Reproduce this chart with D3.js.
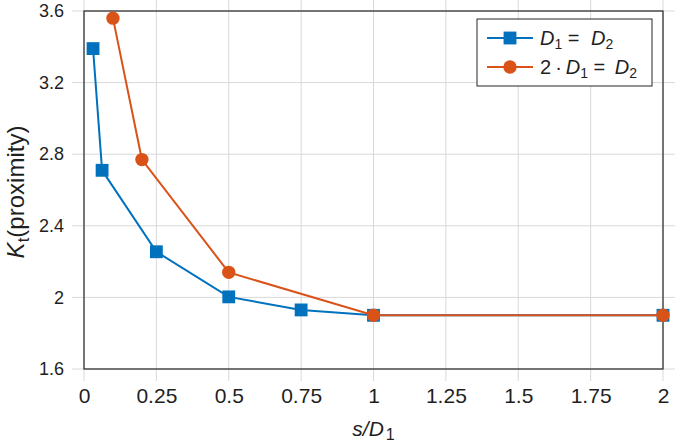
<!DOCTYPE html>
<html>
<head>
  <meta charset="utf-8">
  <script src="https://d3js.org/d3.v7.min.js"></script>
  <style>
    body { margin: 0; background: #fff; }
    svg { font-family: "Liberation Sans", Arial, sans-serif; }
    .grid line { stroke: #d9d9d9; stroke-width: 1; }
    .axis path, .axis line { display: none; }
    .axis text { fill: #1f1f1f; }
  </style>
</head>
<body>
<svg width="675" height="443"></svg>
<script>
// data
var xTicks = [0, 0.25, 0.5, 0.75, 1, 1.25, 1.5, 1.75, 2];
var xTickLabels = ["0", "0.25", "0.5", "0.75", "1", "1.25", "1.5", "1.75", "2"];
var yTicks = [1.6, 2, 2.4, 2.8, 3.2, 3.6];
var yTickLabels = ["1.6", "2", "2.4", "2.8", "3.2", "3.6"];

var sameX = [0.03125, 0.0625, 0.25, 0.5, 0.75, 1, 2];
var sameY = [3.39, 2.71, 2.255, 2.003, 1.93, 1.90, 1.90];
var doubleX = [0.1, 0.2, 0.5, 1, 2];
var doubleY = [3.56, 2.77, 2.14, 1.90, 1.90];

var blue = "#0072bd", orange = "#d95319";

var margin = {top: 11, right: 12, bottom: 74, left: 84},
    width = 675 - margin.left - margin.right,
    height = 443 - margin.top - margin.bottom;

var svg = d3.select("svg");
var g = svg.append("g")
    .attr("transform", "translate(" + margin.left + "," + margin.top + ")");

var x = d3.scaleLinear().domain([0, 2]).range([0, width]);
var y = d3.scaleLinear().domain([1.6, 3.6]).range([height, 0]);

// grid lines, running a little past the box like the original
var ext = 12;
g.append("g").attr("class", "grid")
  .selectAll("line").data(xTicks).enter().append("line")
    .attr("x1", function(d) { return x(d); })
    .attr("x2", function(d) { return x(d); })
    .attr("y1", -margin.top)
    .attr("y2", height + ext);
g.append("g").attr("class", "grid")
  .selectAll("line").data(yTicks).enter().append("line")
    .attr("x1", -ext)
    .attr("x2", width + ext)
    .attr("y1", function(d) { return y(d); })
    .attr("y2", function(d) { return y(d); });

// box
g.append("rect")
    .attr("width", width).attr("height", height)
    .attr("fill", "none").attr("stroke", "#262626").attr("stroke-width", 1.2);

// axes
g.append("g").attr("class", "axis")
    .attr("transform", "translate(0," + height + ")")
    .call(d3.axisBottom(x).tickValues(xTicks).tickSize(0).tickPadding(34)
      .tickFormat(function(d, i) { return xTickLabels[i]; }))
    .call(function(a) { a.selectAll("text").attr("font-size", 21).attr("dy", 0); });

g.append("g").attr("class", "axis")
    .call(d3.axisLeft(y).tickValues(yTicks).tickSize(0).tickPadding(20)
      .tickFormat(function(d, i) { return yTickLabels[i]; }))
    .call(function(a) { a.selectAll("text").attr("font-size", 18); });
g.selectAll(".axis .domain").remove();

// series
function drawSeries(xs, ys, color, marker) {
  var pts = xs.map(function(v, i) { return [v, ys[i]]; });
  var line = d3.line().x(function(d) { return x(d[0]); }).y(function(d) { return y(d[1]); });
  g.append("path").datum(pts)
      .attr("d", line).attr("fill", "none")
      .attr("stroke", color).attr("stroke-width", 2);
  var sym = d3.symbol().type(marker === "square" ? d3.symbolSquare : d3.symbolCircle)
      .size(marker === "square" ? 165 : 140);
  g.append("g").selectAll("path").data(pts).enter().append("path")
      .attr("d", sym)
      .attr("transform", function(d) { return "translate(" + x(d[0]) + "," + y(d[1]) + ")"; })
      .attr("fill", color);
}
drawSeries(sameX, sameY, blue, "square");
drawSeries(doubleX, doubleY, orange, "circle");

// axis titles
var xt = g.append("text")
    .attr("x", width / 2).attr("y", height + 67)
    .attr("text-anchor", "middle").attr("font-size", 21).attr("fill", "#1f1f1f");
xt.append("tspan").attr("font-style", "italic").text("s/D");
xt.append("tspan").attr("font-size", 16).attr("dy", 4).attr("dx", 2).text("1");

var yt = g.append("text")
    .attr("transform", "translate(" + (-60) + "," + (height / 2 + 2) + ") rotate(-90)")
    .attr("text-anchor", "middle").attr("font-size", 24).attr("fill", "#1f1f1f");
yt.append("tspan").attr("font-style", "italic").text("K");
yt.append("tspan").attr("font-size", 17).attr("dy", 5).text("t");
yt.append("tspan").attr("dy", -5).text("(proximity)");

// legend
var lg = g.append("g").attr("transform", "translate(" + (477 - margin.left) + "," + (19 - margin.top) + ")");
lg.append("rect").attr("width", 175).attr("height", 67)
    .attr("fill", "#fff").attr("stroke", "#262626").attr("stroke-width", 1);
var entries = [
  {color: blue, marker: "square", parts: [["i", "D"], ["sub", "1"], ["n", " = "], ["i", "D", 6], ["sub", "2"]]},
  {color: orange, marker: "circle", parts: [["n", "2\u2009\u00b7\u2009"], ["i", "D"], ["sub", "1"], ["n", " = "], ["i", "D", 4], ["sub", "2"]]}
];
entries.forEach(function(e, i) {
  var cy = 19 + i * 29;
  lg.append("line").attr("x1", 10).attr("x2", 56).attr("y1", cy).attr("y2", cy)
      .attr("stroke", e.color).attr("stroke-width", 2);
  lg.append("path")
      .attr("d", d3.symbol().type(e.marker === "square" ? d3.symbolSquare : d3.symbolCircle)
        .size(e.marker === "square" ? 165 : 140))
      .attr("transform", "translate(33," + cy + ")").attr("fill", e.color);
  var t = lg.append("text").attr("x", 63).attr("y", cy + 7)
      .attr("font-size", 20).attr("fill", "#1f1f1f");
  var shifted = false;
  e.parts.forEach(function(p) {
    var s = t.append("tspan").text(p[1]);
    if (p[0] === "sub") {
      s.attr("font-size", 14).attr("dy", 4); shifted = true;
    } else {
      if (shifted) { s.attr("dy", -4); shifted = false; }
      if (p[0] === "i") s.attr("font-style", "italic");
      if (p[2]) s.attr("dx", p[2]);
    }
  });
});
</script>
</body>
</html>
